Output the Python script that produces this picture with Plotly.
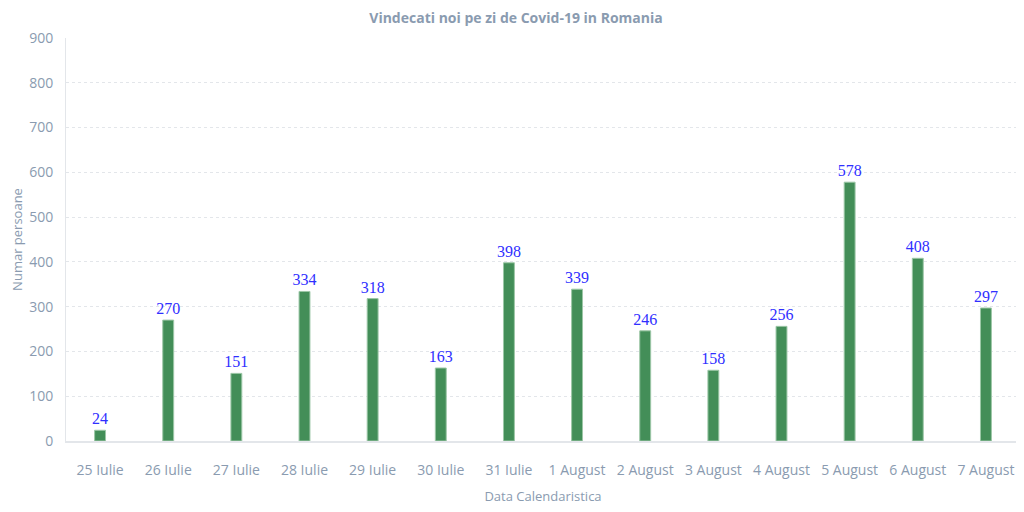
import plotly.graph_objects as go

dates = ["25 Iulie", "26 Iulie", "27 Iulie", "28 Iulie", "29 Iulie", "30 Iulie", "31 Iulie",
         "1 August", "2 August", "3 August", "4 August", "5 August", "6 August", "7 August"]
recovered = [24, 270, 151, 334, 318, 163, 398, 339, 246, 158, 256, 578, 408, 297]

axis_color = "#8a9bb0"
grid_color = "#e3e6ea"

fig = go.Figure(go.Bar(
    x=dates, y=recovered,
    width=0.16,
    marker=dict(color="#438e58", line=dict(color="#9cc7a6", width=1)),
    text=recovered, textposition="outside",
    textfont=dict(family="Liberation Serif, Times New Roman, serif", size=16, color="#2f2fff"),
    constraintext="none",
    cliponaxis=False,
))

fig.update_layout(
    width=1016, height=504,
    paper_bgcolor="white", plot_bgcolor="white",
    margin=dict(l=58, r=4, t=30, b=71),
    title=dict(text="<b>Vindecati noi pe zi de Covid-19 in Romania</b>", x=0.5, xanchor="center",
               y=0.98, yanchor="middle",
               font=dict(family="Open Sans", size=14, color="#8a9bb0")),
    font=dict(family="Open Sans", color=axis_color),
    showlegend=False,
    bargap=0.84,
)
fig.update_xaxes(
    automargin=False,
    showgrid=False, showline=True, linecolor=grid_color, linewidth=2,
    tickfont=dict(family="Open Sans", size=14, color=axis_color),
    ticks="", ticklabelstandoff=15,
    title=dict(text="Data Calendaristica", font=dict(family="Open Sans", size=13, color=axis_color), standoff=14),
)
fig.update_yaxes(
    automargin=False,
    range=[0, 900], dtick=100,
    showgrid=True, gridcolor=grid_color, griddash="dot", gridwidth=1,
    showline=True, linecolor=grid_color, linewidth=1,
    zeroline=False,
    tickfont=dict(family="Open Sans", size=14, color=axis_color),
    ticks="", ticklabelstandoff=9,
    title=dict(text="Numar persoane", font=dict(family="Open Sans", size=13, color=axis_color), standoff=12),
)

fig.write_html("out.html")
